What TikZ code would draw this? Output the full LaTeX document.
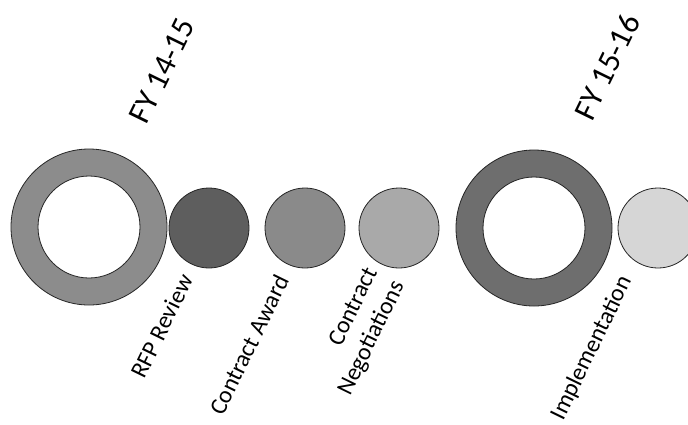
\documentclass[tikz,border=0pt]{standalone}
\usepackage{fontspec}
\setmainfont{Carlito}
\usetikzlibrary{positioning}
\definecolor{ringA}{HTML}{8C8C8C}
\definecolor{ringB}{HTML}{6E6E6E}
\definecolor{dotA}{HTML}{5E5E5E}
\definecolor{dotB}{HTML}{8A8A8A}
\definecolor{dotC}{HTML}{A9A9A9}
\definecolor{dotD}{HTML}{D6D6D6}
\tikzset{
  yearring/.style={draw=black!85,line width=0.8pt,even odd rule},
  stepdot/.style={circle,draw=black!85,line width=0.8pt,minimum size=80pt,inner sep=0pt},
  steplabel/.style={rotate=64,anchor=center,inner sep=0pt,align=right,
    font=\fontsize{24}{30}\selectfont},
  yearlabel/.style={rotate=64,anchor=center,inner sep=0pt,
    font=\fontsize{32}{38}\selectfont}
}
\begin{document}
\begin{tikzpicture}[x=1pt,y=-1pt]
\clip (0,0) rectangle (688,424);
\fill[white] (0,0) rectangle (688,424);
% year rings
\coordinate (fyA) at (89,227);
\coordinate (fyB) at (534,228);
\fill[ringA,yearring] (fyA) circle[radius=78] (fyA) circle[radius=51];
\fill[ringB,yearring] (fyB) circle[radius=78] (fyB) circle[radius=51];
\node[yearlabel] (fyAlabel) at (162,71) {FY 14-15};
\node[yearlabel] (fyBlabel) at (607,67) {FY 15-16};
% steps
\node[stepdot,fill=dotA] (rfp) at (209,228) {};
\node[stepdot,fill=dotB] (award) at (305,228) {};
\node[stepdot,fill=dotC] (negot) at (399,228) {};
\node[stepdot,fill=dotD] (impl) at (658,228) {};
\node[steplabel] (rfplabel) at (162,326) {RFP Review};
\node[steplabel] (awardlabel) at (249,345) {Contract Award};
\node[steplabel] (negotlabel) at (359,332) {Contract\\Negotiations};
\node[steplabel] (impllabel) at (592,348) {Implementation};
\end{tikzpicture}
\end{document}
